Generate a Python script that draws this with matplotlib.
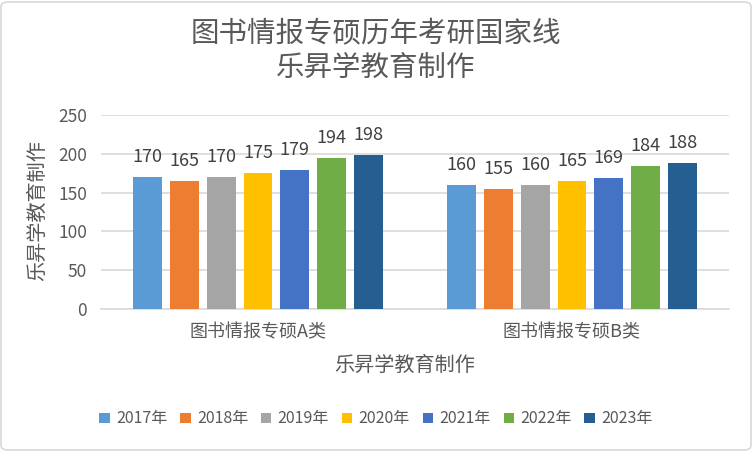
import matplotlib
matplotlib.use("Agg")
import matplotlib.pyplot as plt
from matplotlib.patches import FancyBboxPatch, Patch
import numpy as np

plt.rcParams['font.family'] = ['Noto Sans CJK SC', 'DejaVu Sans']

categories = ['图书情报专硕A类', '图书情报专硕B类']
years = ['2017年', '2018年', '2019年', '2020年', '2021年', '2022年', '2023年']
values = {
    '2017年': [170, 160],
    '2018年': [165, 155],
    '2019年': [170, 160],
    '2020年': [175, 165],
    '2021年': [179, 169],
    '2022年': [194, 184],
    '2023年': [198, 188],
}
colors = ['#5B9BD5', '#ED7D31', '#A5A5A5', '#FFC000', '#4472C4', '#70AD47', '#255E91']
title = '图书情报专硕历年考研国家线\n乐昇学教育制作'
axis_label = '乐昇学教育制作'
yticks = [0, 50, 100, 150, 200, 250]

W, H = 753, 451
fig = plt.figure(figsize=(W / 100, H / 100), dpi=100)
ax = fig.add_axes([101 / W, 1 - 309 / H, (729 - 101) / W, (309 - 115) / H])

txt = '#595959'
x = np.arange(len(categories))
step = 0.117
width = 0.091
n = len(years)
for i, (yr, c) in enumerate(zip(years, colors)):
    pos = x + (i - (n - 1) / 2) * step
    bars = ax.bar(pos, values[yr], width=width, color=c, zorder=3)
    for b, v in zip(bars, values[yr]):
        ax.annotate(str(v), (b.get_x() + b.get_width() / 2, v), xytext=(0, 8),
                    textcoords='offset points', ha='center', va='bottom',
                    fontsize=13, color='#404040')

ax.set_xlim(-0.5, 1.5)
ax.set_ylim(0, 250)
ax.set_yticks(yticks)
ax.set_xticks(x)
ax.set_xticklabels(categories, fontsize=13, color=txt)
ax.tick_params(axis='y', labelsize=12.5, labelcolor=txt, length=0, pad=10)
ax.tick_params(axis='x', length=0, pad=10)
ax.yaxis.grid(True, color='#D9D9D9', linewidth=1.2, zorder=0)
for s in ['top', 'right', 'left']:
    ax.spines[s].set_visible(False)
ax.spines['bottom'].set_color('#D9D9D9')
ax.spines['bottom'].set_linewidth(1.2)
ax.set_axisbelow(True)

fig.text(405 / W, 1 - 365 / H, axis_label, fontsize=14.5, color=txt,
         ha='center', va='center')
fig.text(38 / W, 1 - 211 / H, axis_label, rotation=90, fontsize=14.5, color=txt,
         ha='center', va='center')

fig.text(376 / W, 1 - 51 / H, title, fontsize=20.5, color=txt, ha='center',
         va='center', linespacing=1.15)

handles = [Patch(facecolor=c, edgecolor='none') for c in colors]
fig.legend(handles, years, loc='center', bbox_to_anchor=(376 / W, 1 - 419 / H),
           ncol=7, frameon=False, fontsize=11.5, handlelength=0.65, handleheight=0.65,
           handletextpad=0.4, columnspacing=0.8, labelcolor=txt)

border = FancyBboxPatch((1 / W, 1 / H), 1 - 3 / W, 1 - 3 / H,
                        boxstyle='round,pad=0,rounding_size=0.01',
                        transform=fig.transFigure, facecolor='none',
                        edgecolor='#D9D9D9', linewidth=1.2)
fig.patches.append(border)

fig.savefig('out.png', dpi=100)
